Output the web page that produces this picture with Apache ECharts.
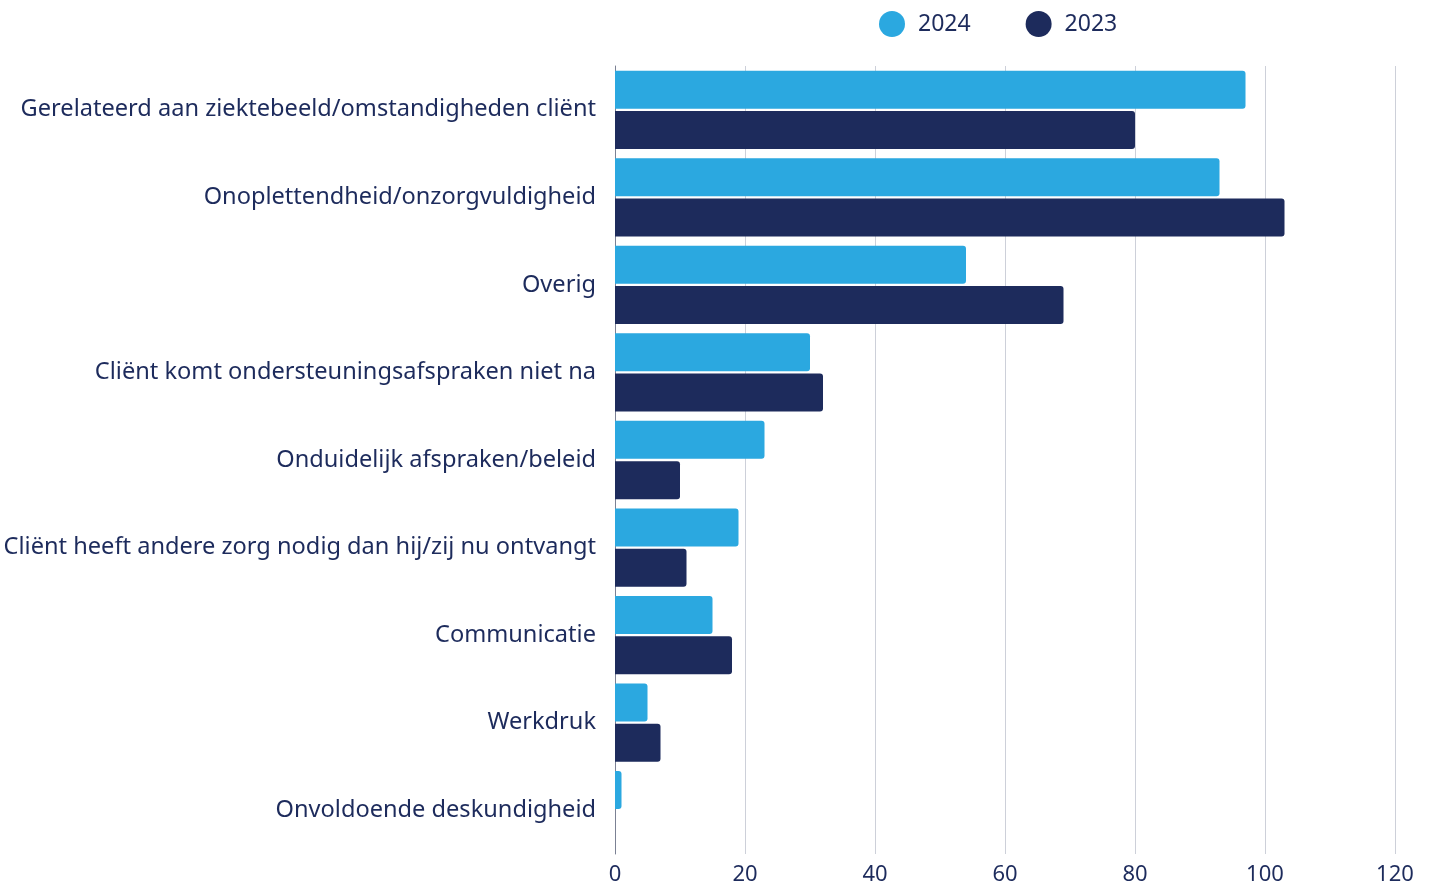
<!DOCTYPE html>
<html>
<head>
<meta charset="utf-8">
<script src="https://cdn.jsdelivr.net/npm/echarts@6/dist/echarts.min.js"></script>
<style>
  html, body { margin: 0; padding: 0; background: #fff; }
  #chart { width: 1430px; height: 886px; }
</style>
</head>
<body>
<div id="chart"></div>
<script>
const categories = [
  'Gerelateerd aan ziektebeeld/omstandigheden cliënt',
  'Onoplettendheid/onzorgvuldigheid',
  'Overig',
  'Cliënt komt ondersteuningsafspraken niet na',
  'Onduidelijk afspraken/beleid',
  'Cliënt heeft andere zorg nodig dan hij/zij nu ontvangt',
  'Communicatie',
  'Werkdruk',
  'Onvoldoende deskundigheid'
]
const values2024 = [97, 93, 54, 30, 23, 19, 15, 5, 1]
const values2023 = [80, 103, 69, 32, 10, 11, 18, 7, 0]

const navy = '#1d2b5c'
const blue = '#2ba8e0'
const font = 'Noto Sans'

const chart = echarts.init(document.getElementById('chart'))
chart.setOption({
  animation: false,
  textStyle: { fontFamily: font },
  legend: {
    left: 874,
    top: 6,
    itemWidth: 26,
    itemHeight: 26,
    itemGap: 55,
    icon: 'circle',
    textStyle: { fontSize: 23, color: navy, fontFamily: font, padding: [0, 0, 0, 8] },
    data: ['2024', '2023']
  },
  grid: {
    left: 615,
    right: 35,
    top: 66,
    bottom: 31,
    containLabel: false
  },
  xAxis: {
    type: 'value',
    min: 0,
    max: 120,
    interval: 20,
    axisLine: { show: false },
    axisTick: { show: false },
    axisLabel: { fontSize: 22, color: navy, margin: 10, fontFamily: font },
    splitLine: { lineStyle: { color: '#cdd0d9', width: 1 } }
  },
  yAxis: {
    type: 'category',
    inverse: true,
    data: categories,
    axisLine: { show: true, lineStyle: { color: '#7b8194', width: 1 } },
    axisTick: { show: false },
    axisLabel: { fontSize: 23.6, color: navy, margin: 19, fontFamily: font }
  },
  series: [
    {
      name: '2024',
      type: 'bar',
      data: values2024,
      barWidth: 38,
      barGap: '6%',
      itemStyle: { color: blue, borderRadius: [0, 3, 3, 0] }
    },
    {
      name: '2023',
      type: 'bar',
      data: values2023,
      barWidth: 38,
      itemStyle: { color: navy, borderRadius: [0, 3, 3, 0] }
    }
  ]
})
</script>
</body>
</html>
